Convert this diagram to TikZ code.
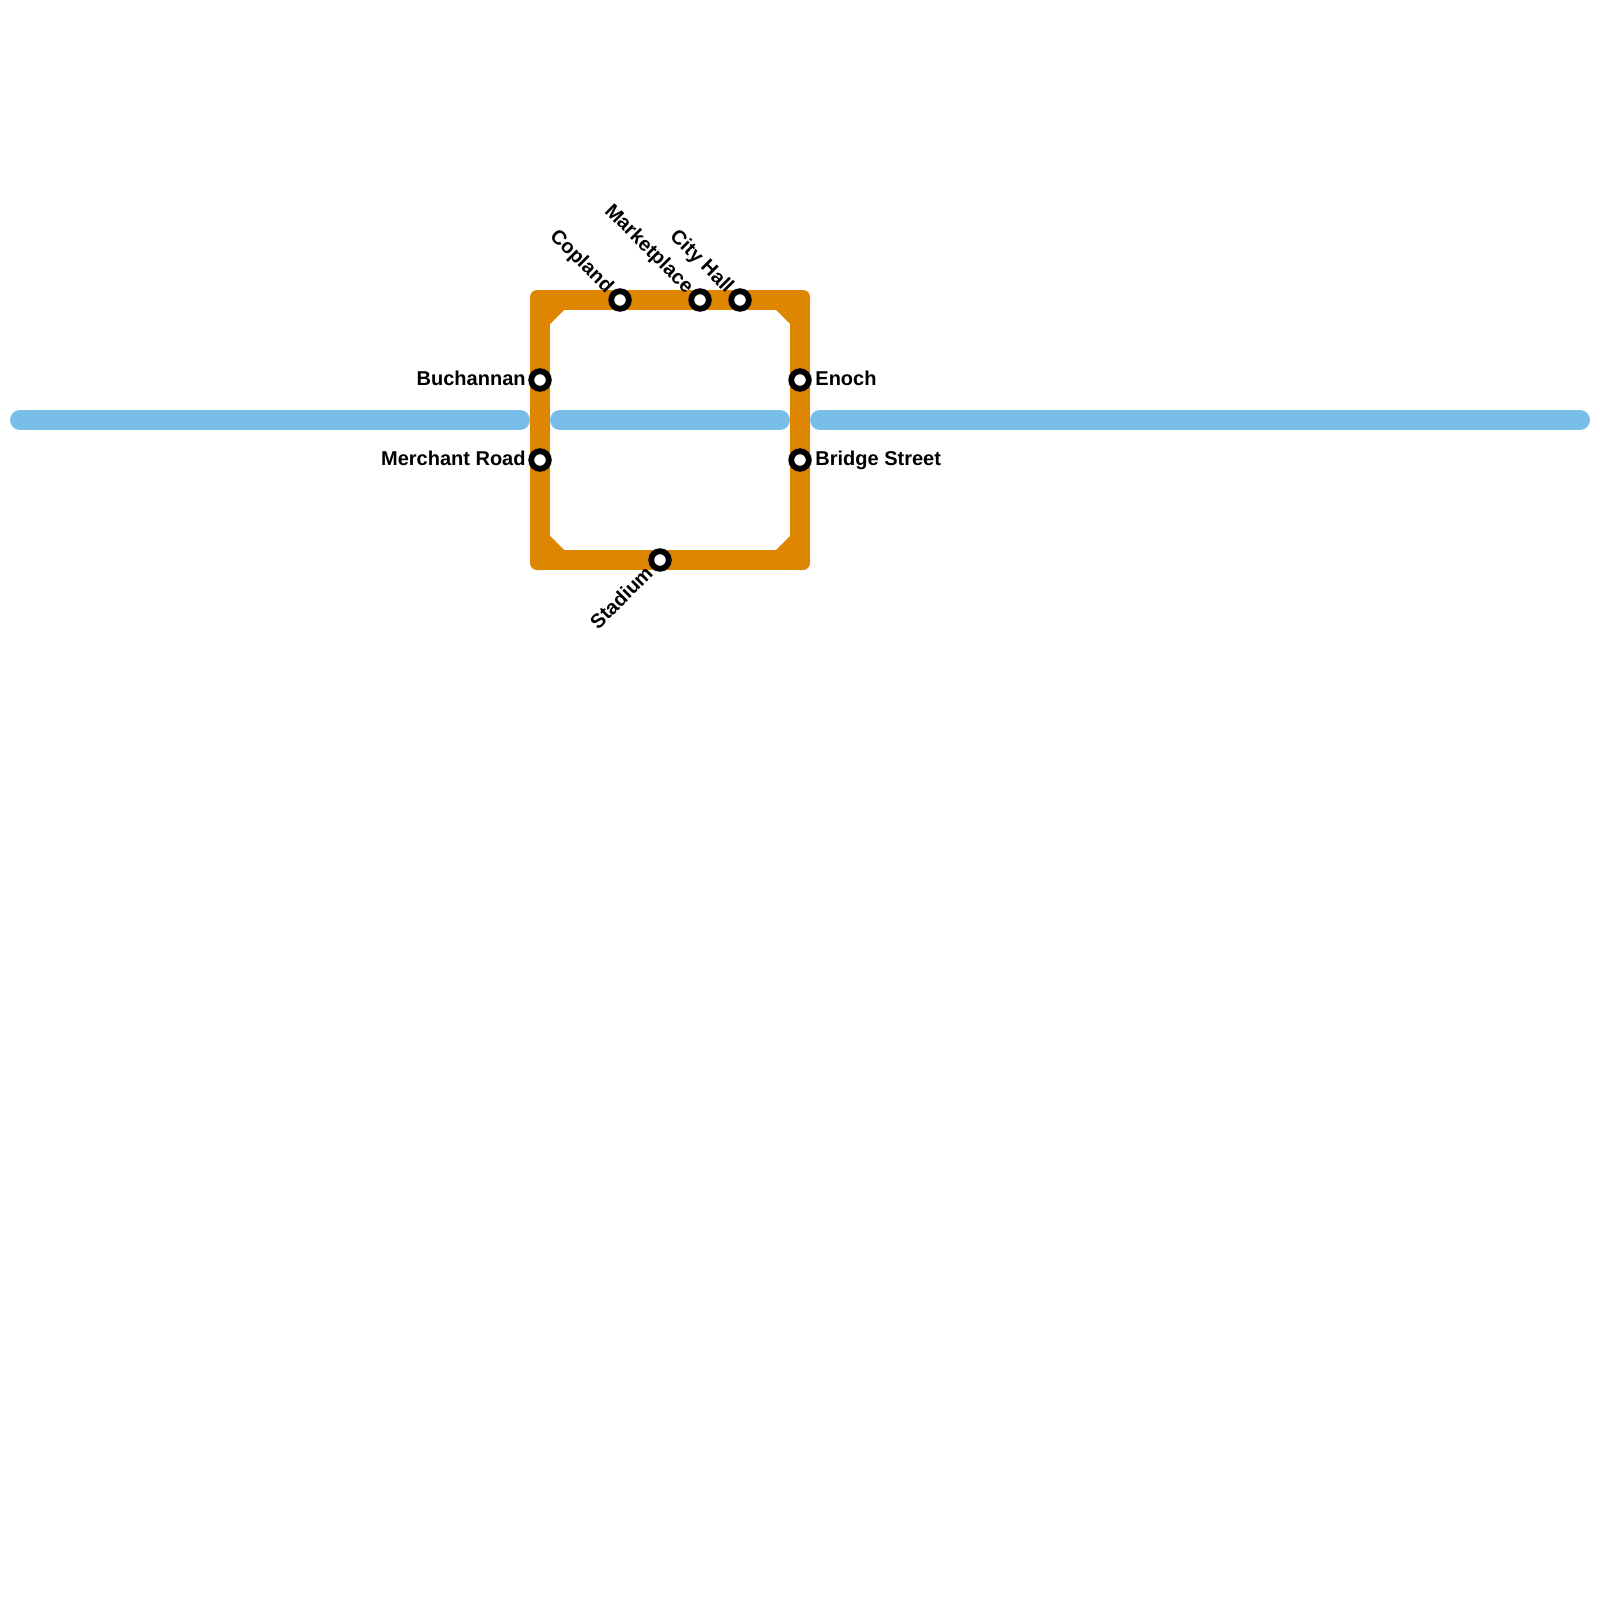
\documentclass[tikz,border=0pt]{standalone}
\usepackage{fontspec}
\usetikzlibrary{positioning}
\setmainfont{Liberation Sans}
\definecolor{lineorange}{HTML}{DF8600}
\definecolor{lineblue}{HTML}{79BDE9}
\tikzstyle{orangeline} = [draw = lineorange, line width = 10pt]
\tikzstyle{blueline} = [draw = lineblue, line width = 10pt, line cap = round]
\tikzstyle{corner} = [rectangle, rounded corners = 3.5pt, minimum size = 10pt, inner sep = 0pt, outer sep = 0pt, fill = lineorange]
\tikzstyle{station} = [circle, minimum size = 8.8pt, inner sep = 0pt, draw = black, line width = 2.9pt, fill = white]
\tikzstyle{stationlabel} = [inner sep = 0pt, text height = 7.2pt, text depth = 0pt, font = \bfseries\fontsize{10}{12}\selectfont]
\begin{document}
\begin{tikzpicture}[x = 0.5pt, y = -0.5pt, node distance = 40pt]
    \useasboundingbox (0, 0) rectangle (1600, 1600);
    \fill [white] (0, 0) rectangle (1600, 1600);

    %blue line
    \coordinate (westA) at (20, 420);
    \coordinate (westB) at (520, 420);
    \coordinate (midA) at (560, 420);
    \coordinate (midB) at (780, 420);
    \coordinate (eastA) at (820, 420);
    \coordinate (eastB) at (1580, 420);
    \draw [blueline] (westA) -- (westB);
    \draw [blueline] (midA) -- (midB);
    \draw [blueline] (eastA) -- (eastB);

    %corners of the orange loop
    \node (topleft) [corner] at (540, 300) {};
    \node (topright) [corner] at (800, 300) {};
    \node (bottomleft) [corner] at (540, 560) {};
    \node (bottomright) [corner] at (800, 560) {};
    \draw [orangeline] (topleft.center) -- (topright.center);
    \draw [orangeline] (topright.center) -- (bottomright.center);
    \draw [orangeline] (bottomright.center) -- (bottomleft.center);
    \draw [orangeline] (bottomleft.center) -- (topleft.center);
    \fill [lineorange] (topleft.center) -- ++(24, 0) -- ++(0, 10) -- ++(-14, 14) -- ++(-10, 0) -- cycle;
    \fill [lineorange] (topright.center) -- ++(-24, 0) -- ++(0, 10) -- ++(14, 14) -- ++(10, 0) -- cycle;
    \fill [lineorange] (bottomleft.center) -- ++(24, 0) -- ++(0, -10) -- ++(-14, -14) -- ++(-10, 0) -- cycle;
    \fill [lineorange] (bottomright.center) -- ++(-24, 0) -- ++(0, -10) -- ++(14, -14) -- ++(10, 0) -- cycle;

    %stations
    \node (buchannan) [station] at (540, 380) {};
    \node (merchant) [station, below of = buchannan] {};
    \node (enoch) [station, right of = buchannan, xshift = 90pt] {};
    \node (bridge) [station, below of = enoch] {};
    \node (copland) [station] at (620, 300) {};
    \node (marketplace) [station, right of = copland] {};
    \node (cityhall) [station, right of = marketplace, xshift = -20pt] {};
    \node (stadium) [station] at (660, 560) {};

    %labels
    \node (lbuchannan) [stationlabel, anchor = east, xshift = -7pt, yshift = 1pt] at (buchannan) {Buchannan};
    \node (lmerchant) [stationlabel, anchor = east, xshift = -7pt, yshift = 1pt] at (merchant) {Merchant Road};
    \node (lenoch) [stationlabel, anchor = west, xshift = 7.5pt, yshift = 1pt] at (enoch) {Enoch};
    \node (lbridge) [stationlabel, anchor = west, xshift = 7.5pt, yshift = 1pt] at (bridge) {Bridge Street};
    \node (lcopland) [stationlabel, anchor = east, rotate = -45, xshift = -7pt, yshift = 0.7pt] at (copland) {Copland};
    \node (lmarketplace) [stationlabel, anchor = east, rotate = -45, xshift = -7pt, yshift = 0.7pt] at (marketplace) {Marketplace};
    \node (lcityhall) [stationlabel, anchor = east, rotate = -45, xshift = -7pt, yshift = 0.7pt] at (cityhall) {City Hall};
    \node (lstadium) [stationlabel, anchor = east, rotate = 45, xshift = -7pt, yshift = 0.6pt] at (stadium) {Stadium};
\end{tikzpicture}
\end{document}
